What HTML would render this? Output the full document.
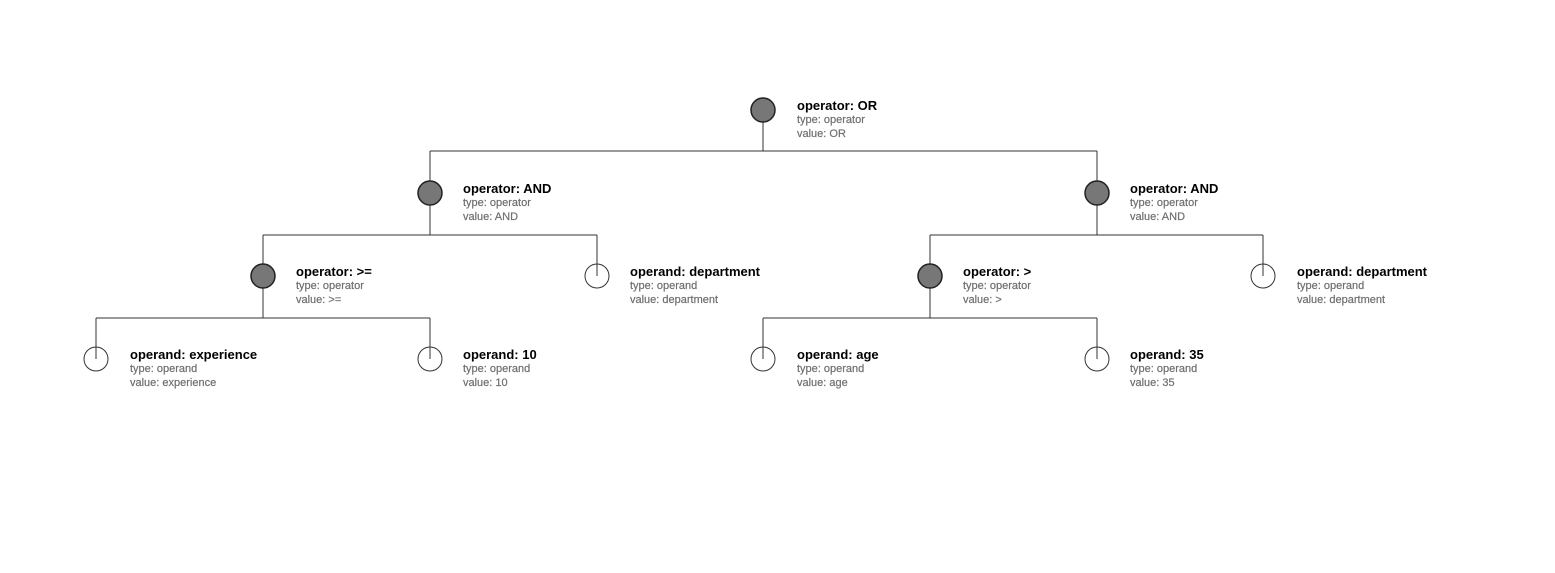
<!DOCTYPE html>
<html><head><style>body{margin:0;background:#fff}</style></head><body>
<svg width="1555" height="568" xmlns="http://www.w3.org/2000/svg" font-family="Liberation Sans, DejaVu Sans, sans-serif">
<g stroke="#333" stroke-width="1" fill="none">
<path d="M763 110V151M430 151H1097M430 151V193M1097 151V193"/>
<path d="M430 193V235M263 235H597M263 235V276M597 235V276"/>
<path d="M1097 193V235M930 235H1263M930 235V276M1263 235V276"/>
<path d="M263 276V318M96 318H430M96 318V359M430 318V359"/>
<path d="M930 276V318M763 318H1097M763 318V359M1097 318V359"/>
</g>
<g stroke="#222" stroke-width="1.5" fill="#777">
<circle cx="763" cy="110" r="12"/><circle cx="430" cy="193" r="12"/><circle cx="1097" cy="193" r="12"/>
<circle cx="263" cy="276" r="12"/><circle cx="930" cy="276" r="12"/>
</g>
<g stroke="#333" stroke-width="1" fill="none">
<circle cx="597" cy="276" r="12"/><circle cx="1263" cy="276" r="12"/>
<circle cx="96" cy="359" r="12"/><circle cx="430" cy="359" r="12"/><circle cx="763" cy="359" r="12"/><circle cx="1097" cy="359" r="12"/>
</g>
<g font-size="13">
<g transform="translate(797,110)"><text font-weight="bold" fill="#000">operator: OR</text><text y="13" font-size="11" fill="#6f6f6f" stroke="#6f6f6f" stroke-width="0.2">type: operator</text><text y="27" font-size="11" fill="#6f6f6f" stroke="#6f6f6f" stroke-width="0.2">value: OR</text></g>
<g transform="translate(463,193)"><text font-weight="bold" fill="#000">operator: AND</text><text y="13" font-size="11" fill="#6f6f6f" stroke="#6f6f6f" stroke-width="0.2">type: operator</text><text y="27" font-size="11" fill="#6f6f6f" stroke="#6f6f6f" stroke-width="0.2">value: AND</text></g>
<g transform="translate(1130,193)"><text font-weight="bold" fill="#000">operator: AND</text><text y="13" font-size="11" fill="#6f6f6f" stroke="#6f6f6f" stroke-width="0.2">type: operator</text><text y="27" font-size="11" fill="#6f6f6f" stroke="#6f6f6f" stroke-width="0.2">value: AND</text></g>
<g transform="translate(296,276)"><text font-weight="bold" fill="#000">operator: &gt;=</text><text y="13" font-size="11" fill="#6f6f6f" stroke="#6f6f6f" stroke-width="0.2">type: operator</text><text y="27" font-size="11" fill="#6f6f6f" stroke="#6f6f6f" stroke-width="0.2">value: &gt;=</text></g>
<g transform="translate(630,276)"><text font-weight="bold" fill="#000">operand: department</text><text y="13" font-size="11" fill="#6f6f6f" stroke="#6f6f6f" stroke-width="0.2">type: operand</text><text y="27" font-size="11" fill="#6f6f6f" stroke="#6f6f6f" stroke-width="0.2">value: department</text></g>
<g transform="translate(963,276)"><text font-weight="bold" fill="#000">operator: &gt;</text><text y="13" font-size="11" fill="#6f6f6f" stroke="#6f6f6f" stroke-width="0.2">type: operator</text><text y="27" font-size="11" fill="#6f6f6f" stroke="#6f6f6f" stroke-width="0.2">value: &gt;</text></g>
<g transform="translate(1297,276)"><text font-weight="bold" fill="#000">operand: department</text><text y="13" font-size="11" fill="#6f6f6f" stroke="#6f6f6f" stroke-width="0.2">type: operand</text><text y="27" font-size="11" fill="#6f6f6f" stroke="#6f6f6f" stroke-width="0.2">value: department</text></g>
<g transform="translate(130,359)"><text font-weight="bold" fill="#000">operand: experience</text><text y="13" font-size="11" fill="#6f6f6f" stroke="#6f6f6f" stroke-width="0.2">type: operand</text><text y="27" font-size="11" fill="#6f6f6f" stroke="#6f6f6f" stroke-width="0.2">value: experience</text></g>
<g transform="translate(463,359)"><text font-weight="bold" fill="#000">operand: 10</text><text y="13" font-size="11" fill="#6f6f6f" stroke="#6f6f6f" stroke-width="0.2">type: operand</text><text y="27" font-size="11" fill="#6f6f6f" stroke="#6f6f6f" stroke-width="0.2">value: 10</text></g>
<g transform="translate(797,359)"><text font-weight="bold" fill="#000">operand: age</text><text y="13" font-size="11" fill="#6f6f6f" stroke="#6f6f6f" stroke-width="0.2">type: operand</text><text y="27" font-size="11" fill="#6f6f6f" stroke="#6f6f6f" stroke-width="0.2">value: age</text></g>
<g transform="translate(1130,359)"><text font-weight="bold" fill="#000">operand: 35</text><text y="13" font-size="11" fill="#6f6f6f" stroke="#6f6f6f" stroke-width="0.2">type: operand</text><text y="27" font-size="11" fill="#6f6f6f" stroke="#6f6f6f" stroke-width="0.2">value: 35</text></g>
</g>
</svg>
</body></html>
